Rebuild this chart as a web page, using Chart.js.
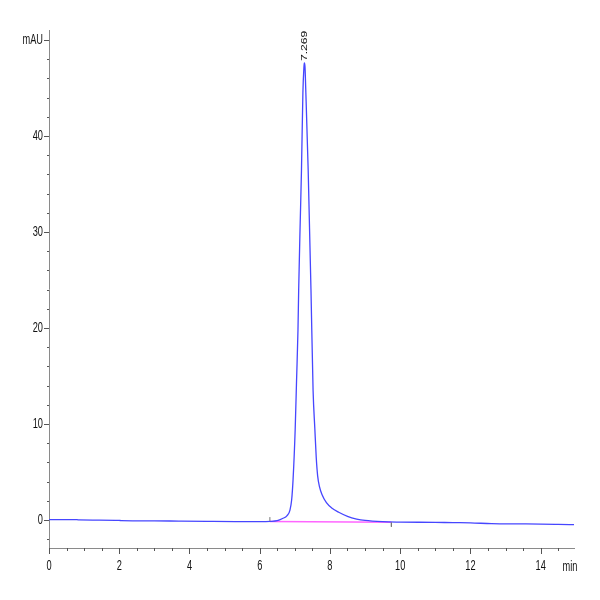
<!DOCTYPE html>
<html>
<head>
<meta charset="utf-8">
<script src="https://cdn.jsdelivr.net/npm/chart.js@4/dist/chart.umd.min.js"></script>
<style>
  html, body { margin: 0; padding: 0; background: #fff; }
  #wrap { width: 600px; height: 600px; }
</style>
</head>
<body>
<div id="wrap"><canvas id="chrom"></canvas></div>
<script>
var tempi = [0, 0.8, 0.85, 2.0, 2.05, 3.0, 3.7, 4.5, 5.3, 6.0, 6.3, 6.5, 6.65, 6.78, 6.86, 6.91, 6.95,
    7.01, 7.05, 7.09, 7.11, 7.15, 7.19, 7.23, 7.26, 7.27, 7.29, 7.31, 7.38, 7.46, 7.52, 7.57, 7.61,
    7.65, 7.7, 7.78, 7.9, 8.05, 8.25, 8.5, 8.76, 9.0, 9.5, 10.0, 11.0, 11.5, 12.0, 12.6, 13.5, 14.0, 14.5, 14.95];
var assorbanza = [0.03, 0.03, 0.0, -0.04, -0.07, -0.09, -0.12, -0.15, -0.17, -0.17, -0.15, -0.08, 0.15, 0.45, 1.0, 2.1, 4.2,
    9.4, 14.6, 19.8, 24, 30.5, 36.5, 44.5, 47.2, 47.6, 47.2, 45, 36.5, 24, 13.5, 9.5, 6.5,
    4.6, 3.5, 2.6, 1.8, 1.25, 0.8, 0.38, 0.1, -0.05, -0.18, -0.22, -0.25, -0.28, -0.3, -0.38, -0.41, -0.43, -0.46, -0.49];

// Linea di base dell'integrazione (inizio / fine)
var baseTempi = [6.29, 9.75];
var baseValori = [-0.17, -0.25];
// Marcatori di inizio e fine integrazione
var markInizio = [{ x: 6.29, y: -0.1 }, { x: 6.29, y: 0.3 }];
var markFine = [{ x: 9.75, y: -0.28 }, { x: 9.75, y: -0.7 }];

// Picco e etichetta
var piccoTempo = 7.27;
var piccoValore = 47.6;
var piccoEtichetta = "7.269";

// Tacche degli assi
var xTacche = [0, 2, 4, 6, 8, 10, 12, 14];
var yTacche = [0, 10, 20, 30, 40, 50];
var yEtichette = ["0", "10", "20", "30", "40", "mAU"];
var xUnita = "min";

var custom = {
    traccia: "#4646ff",
    base: "#ff66ff",
    asse: "#8a8a8a",
    testo: "#111111",
    font: "14px 'Liberation Sans', Arial, sans-serif",
    stretto: 0.66
};

var datiTraccia = tempi.map(function (t, i) { return { x: t, y: assorbanza[i] }; });
var datiBase = baseTempi.map(function (t, i) { return { x: t, y: baseValori[i] }; });

// Scrive un testo compresso in orizzontale (carattere stretto come nell'originale)
function testoStretto(ctx, testo, x, y, align) {
    ctx.save();
    ctx.translate(x, y);
    ctx.scale(custom.stretto, 1);
    ctx.textAlign = align;
    ctx.textBaseline = "middle";
    ctx.fillText(testo, 0, 0);
    ctx.restore();
}

// Plugin per tacche minori/maggiori, etichette, etichetta del picco e "min"
var extraPlugin = {
    id: "extra",
    afterDraw: function (chart) {
        var ctx = chart.ctx;
        var xs = chart.scales.x, ys = chart.scales.y;
        var area = chart.chartArea;
        ctx.save();
        ctx.strokeStyle = "#555";
        ctx.lineWidth = 1;
        // tacche asse x ogni 0.5 min
        for (var v = 0; v <= 14.5; v += 0.5) {
            var px = Math.round(xs.getPixelForValue(v)) + 0.5;
            var lung = (v % 2 === 0) ? 6 : 3;
            ctx.beginPath();
            ctx.moveTo(px, area.bottom);
            ctx.lineTo(px, area.bottom + lung);
            ctx.stroke();
        }
        // tacche asse y ogni 2 mAU
        for (var w = -2; w <= 50; w += 2) {
            var py = Math.round(ys.getPixelForValue(w)) + 0.5;
            var l2 = (w % 10 === 0) ? 5 : 2;
            ctx.beginPath();
            ctx.moveTo(area.left - l2, py);
            ctx.lineTo(area.left, py);
            ctx.stroke();
        }

        // etichette degli assi
        ctx.fillStyle = custom.testo;
        ctx.font = custom.font;
        xTacche.forEach(function (t) {
            testoStretto(ctx, String(t), xs.getPixelForValue(t), area.bottom + 18, "center");
        });
        yTacche.forEach(function (t, i) {
            testoStretto(ctx, yEtichette[i], area.left - 6, ys.getPixelForValue(t), "right");
        });
        testoStretto(ctx, xUnita, area.right - 4, area.bottom + 19, "center");

        // etichetta del picco ruotata
        ctx.font = "11px 'Liberation Sans', Arial, sans-serif";
        ctx.translate(xs.getPixelForValue(piccoTempo), ys.getPixelForValue(piccoValore) - 2);
        ctx.rotate(-Math.PI / 2);
        ctx.scale(1.1, 0.85);
        ctx.textAlign = "left";
        ctx.textBaseline = "middle";
        ctx.fillText(piccoEtichetta, 0, 0);
        ctx.restore();
    }
};

new Chart(document.getElementById("chrom").getContext("2d"), {
    type: "line",
    data: {
        datasets: [{
            data: datiTraccia,
            borderColor: custom.traccia,
            borderWidth: 1.3,
            pointRadius: 0,
            cubicInterpolationMode: "monotone",
            order: 1
        }, {
            data: datiBase,
            borderColor: custom.base,
            borderWidth: 1.5,
            pointRadius: 0,
            order: 2
        }, {
            data: markInizio,
            borderColor: "#777",
            borderWidth: 1,
            pointRadius: 0
        }, {
            data: markFine,
            borderColor: "#777",
            borderWidth: 1,
            pointRadius: 0
        }]
    },
    options: {
        responsive: true,
        maintainAspectRatio: false,
        animation: false,
        layout: { padding: { top: 30, right: 26, left: 0, bottom: 0 } },
        plugins: { legend: { display: false }, tooltip: { enabled: false } },
        scales: {
            x: {
                type: "linear",
                min: 0,
                max: 14.95,
                afterFit: function (s) { s.height = 52; },
                afterBuildTicks: function (s) { s.ticks = xTacche.map(function (v) { return { value: v }; }); },
                grid: { display: false, drawTicks: false },
                border: { display: true, color: custom.asse, width: 1 },
                ticks: { display: false }
            },
            y: {
                type: "linear",
                min: -2.92,
                max: 51.04,
                afterFit: function (s) { s.width = 49; },
                afterBuildTicks: function (s) { s.ticks = yTacche.map(function (v) { return { value: v }; }); },
                grid: { display: false, drawTicks: false },
                border: { display: true, color: custom.asse, width: 1 },
                ticks: { display: false }
            }
        }
    },
    plugins: [extraPlugin]
});
</script>
</body>
</html>
